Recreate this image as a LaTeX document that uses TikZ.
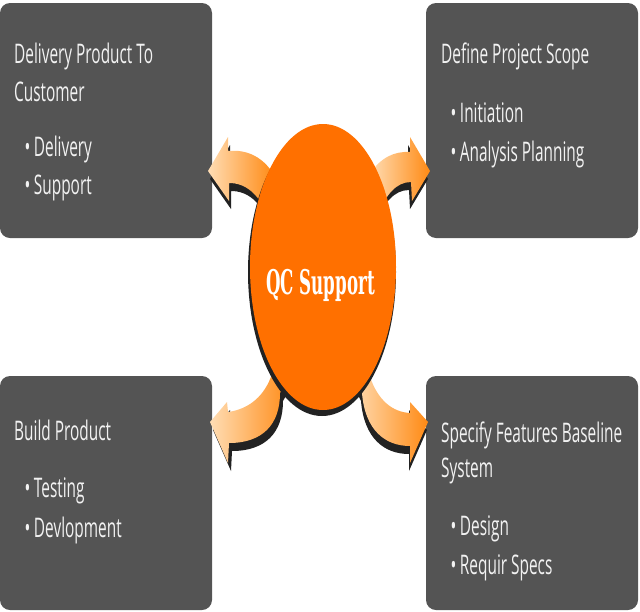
\documentclass[tikz,border=0pt]{standalone}
\usepackage{fontspec}
\usetikzlibrary{shapes.geometric}
\newfontfamily\boxfont{Open Sans}[FakeStretch=0.57]
\newfontfamily\qcfont{DejaVu Serif}[FakeStretch=0.49]
\definecolor{boxgray}{HTML}{545454}
\definecolor{txt}{HTML}{F2F2F2}
\definecolor{qcorange}{HTML}{FF7000}
\definecolor{peach}{HTML}{FFDDB4}
\definecolor{arrorange}{HTML}{FF8A14}
\definecolor{shad}{HTML}{222222}
\newcommand\qcArrTL{(208,171) -- (228,137) -- (228,151) .. controls (248,149) and (264,158) .. (274,175) -- (268,215) .. controls (258,194) and (246,183) .. (229,183) -- (229,201) -- cycle}
\newcommand\qcArrTR{(430,171) -- (410,137) -- (410,152) .. controls (394,151) and (380,158) .. (370,174) -- (378,214) .. controls (386,195) and (396,182) .. (411,182) -- (412,201) -- cycle}
\newcommand\qcArrBL{(210,422) -- (227,402) -- (228,412) .. controls (250,409) and (265,395) .. (272,374) -- (292,372) -- (280,393) .. controls (280,425) and (262,443) .. (229,443) -- (228,463) -- cycle}
\newcommand\qcArrBR{(428,422) -- (410,402) -- (410,413) .. controls (392,412) and (378,400) .. (370,377) -- (352,372) -- (362,393) .. controls (365,430) and (385,446) .. (410,446) -- (410,463) -- cycle}
\newcommand\qcBul{\textbullet\hspace{3.5pt}}
\tikzset{
  box/.style={fill=boxgray, rounded corners=10pt, minimum width=212pt, inner sep=0pt, draw=none},
  lbl/.style={anchor=base west, inner sep=0pt, text=txt, font=\boxfont\fontsize{27}{30}\selectfont},
}
\begin{document}
\begin{tikzpicture}[x=1pt,y=-1pt]
\useasboundingbox (0,0) rectangle (640,611);
% boxes
\node[box, minimum height=235pt] (tl) at (106,120.5) {};
\node[box, minimum height=235pt] (tr) at (532,120.5) {};
\node[box, minimum height=234pt] (bl) at (106,493) {};
\node[box, minimum height=234pt] (br) at (532,493) {};
% texts
\node[lbl] (tl1) at (14,63) {Delivery Product To};
\node[lbl] (tl2) at (14,101) {Customer};
\node[lbl] (tl3) at (24.5,156) {\qcBul Delivery};
\node[lbl] (tl4) at (24.5,194) {\qcBul Support};
\node[lbl] (tr1) at (441,63) {Define Project Scope};
\node[lbl] (tr2) at (450.5,122) {\qcBul Initiation};
\node[lbl] (tr3) at (450.5,161) {\qcBul Analysis Planning};
\node[lbl] (bl1) at (14,440) {Build Product};
\node[lbl] (bl2) at (24.5,497) {\qcBul Testing};
\node[lbl] (bl3) at (24.5,537) {\qcBul Devlopment};
\node[lbl] (br1) at (441,442) {Specify Features Baseline};
\node[lbl] (br2) at (441,477) {System};
\node[lbl] (br3) at (450.5,535) {\qcBul Design};
\node[lbl] (br4) at (450.5,574) {\qcBul Requir Specs};
% arrow shadows
\fill[shad, shift={(2,8)}] \qcArrTL;
\fill[shad, shift={(-2,8)}] \qcArrTR;
\fill[shad, shift={(3,8)}] \qcArrBL;
\fill[shad, shift={(-1,8)}] \qcArrBR;
% arrows
\shade[left color=peach, right color=arrorange] \qcArrTL;
\shade[left color=peach, right color=arrorange] \qcArrTR;
\shade[left color=peach, right color=arrorange] \qcArrBL;
\shade[left color=peach, right color=arrorange] \qcArrBR;
% ellipse
\fill[shad] (322,272) ellipse [x radius=74, y radius=144];
\node[ellipse, fill=qcorange, minimum width=146pt, minimum height=286pt, inner sep=0pt] (qc) at (323,267) {};
\node[anchor=base, inner sep=0pt, text=white, font=\qcfont\bfseries\fontsize{34}{36}\selectfont] (qct) at (320.5,294) {QC Support};
\end{tikzpicture}
\end{document}
